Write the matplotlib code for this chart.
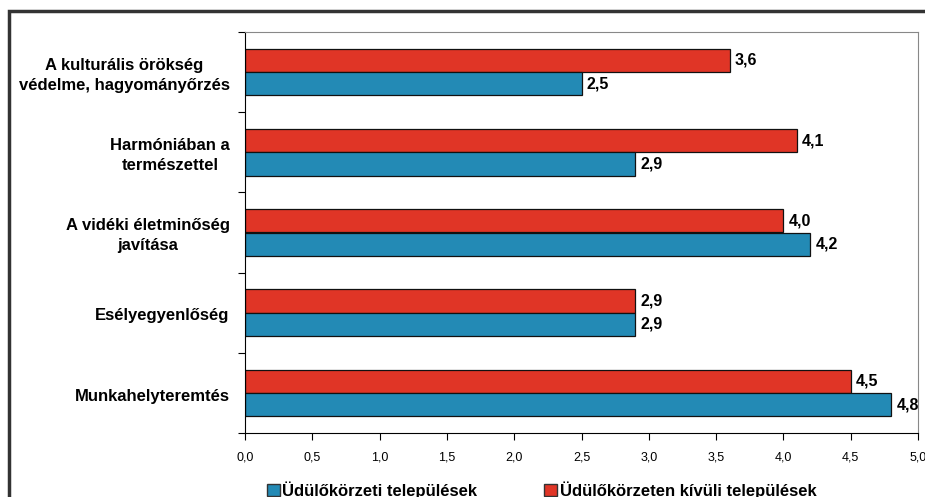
import matplotlib
matplotlib.use("Agg")
import matplotlib.pyplot as plt
from matplotlib.patches import Rectangle, Patch

categories = ["A kulturális örökség\nvédelme, hagyományőrzés",
              "Harmóniában a\ntermészettel",
              "A vidéki életminőség\njavítása",
              "Esélyegyenlőség",
              "Munkahelyteremtés"]
udulo = [2.5, 2.9, 4.2, 2.9, 4.8]
kivuli = [3.6, 4.1, 4.0, 2.9, 4.5]
series_names = ["Üdülőkörzeti települések", "Üdülőkörzeten kívüli települések"]
xticks = [0.0, 0.5, 1.0, 1.5, 2.0, 2.5, 3.0, 3.5, 4.0, 4.5, 5.0]

blue = "#238AB5"
red = "#E03526"

plt.rcParams['font.family'] = ['Liberation Sans', 'DejaVu Sans']

fig = plt.figure(figsize=(9.25, 4.97), dpi=100)
ax = fig.add_axes([245/925, 1-433/497, (918-245)/925, (433-32)/497])

h = 0.29
ypos = list(range(len(categories)))
ax.barh([y - h/2 for y in ypos], kivuli, height=h, color=red, edgecolor="#111111", linewidth=0.9)
ax.barh([y + h/2 for y in ypos], udulo, height=h, color=blue, edgecolor="#111111", linewidth=0.9)

def fmt(v):
    return f"{v:.1f}".replace(".", ",")

for y, v in zip(ypos, kivuli):
    ax.text(v + 0.04, y - h/2, fmt(v), va="center", ha="left", fontsize=11.5, fontweight="bold")
for y, v in zip(ypos, udulo):
    ax.text(v + 0.04, y + h/2, fmt(v), va="center", ha="left", fontsize=11.5, fontweight="bold")

ax.set_xlim(0, 5.0)
ax.set_ylim(len(categories) - 0.5, -0.5)
ax.set_xticks(xticks)
ax.set_xticklabels([fmt(t) for t in xticks], fontsize=9)
ax.tick_params(axis="x", direction="out", length=5, width=0.8, pad=8)

ax.set_yticks([i - 0.5 for i in range(len(categories) + 1)])
ax.set_yticklabels([])
ax.tick_params(axis="y", which="major", direction="out", length=5, width=0.8)
ax.set_yticks([y + 0.04 for y in ypos], minor=True)
labs = ax.set_yticklabels(categories, minor=True, fontsize=12, fontweight="bold")
for t in labs:
    t.set_multialignment("center")
    t.set_linespacing(1.4)
    t.set_verticalalignment("center")
ax.tick_params(axis="y", which="minor", length=0, pad=11)

for s in ["left", "bottom"]:
    ax.spines[s].set_color("black")
    ax.spines[s].set_linewidth(0.8)
for s in ["top", "right"]:
    ax.spines[s].set_color("#888888")
    ax.spines[s].set_linewidth(0.8)

# outer frame
fig.patches.append(Rectangle((9/925, -0.05), 1.0, 1 - 11/497 + 0.05, transform=fig.transFigure,
                             fill=False, edgecolor="#333333", linewidth=2.5))

handles = [Patch(facecolor=blue, edgecolor="#333333", label=series_names[0]),
           Patch(facecolor=red, edgecolor="#333333", label=series_names[1])]
fig.legend(handles=handles, loc="center", bbox_to_anchor=(541.5/925, 1-490/497), ncol=2,
           frameon=False, prop={"weight": "bold", "size": 12}, handlelength=0.8,
           handleheight=0.8, handletextpad=0.15, columnspacing=4.0, borderaxespad=0,
           borderpad=0)

fig.savefig("out.png", dpi=100)
